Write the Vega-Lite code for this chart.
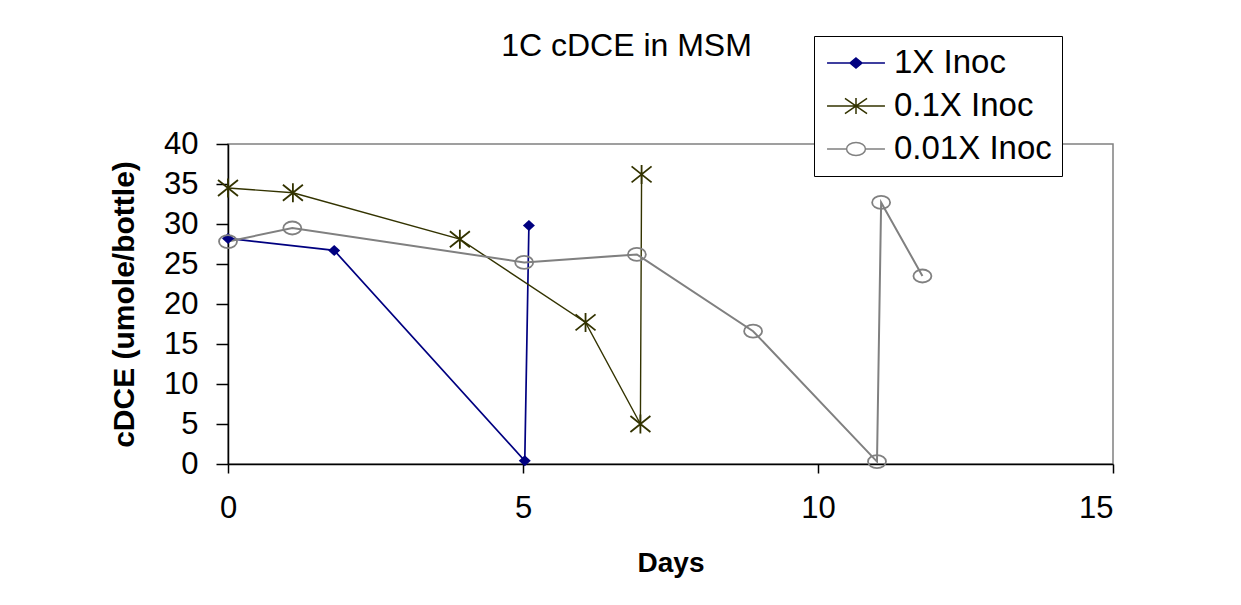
{
  "$schema": "https://vega.github.io/schema/vega-lite/v6.json",
  "autosize": {"type": "none"},
  "padding": {"left": 228, "top": 144, "right": 128, "bottom": 141},
  "width": 885,
  "height": 320,
  "background": "white",
  "config": {
    "font": "Liberation Sans",
    "view": {"stroke": "#808080", "strokeWidth": 1.5},
    "axis": {
      "grid": false,
      "domainColor": "black",
      "domainWidth": 1.5,
      "tickColor": "black",
      "tickWidth": 1.5,
      "labelColor": "black",
      "titleColor": "black",
      "labelFont": "Liberation Sans",
      "titleFont": "Liberation Sans",
      "labelFontSize": 31,
      "titleFontSize": 28,
      "titleFontWeight": "bold",
      "labelFlush": false
    }
  },
  "title": {
    "text": "1C cDCE in MSM",
    "font": "Liberation Sans",
    "fontSize": 32,
    "fontWeight": "normal",
    "color": "black",
    "anchor": "middle",
    "frame": "group",
    "dx": -44,
    "baseline": "alphabetic",
    "offset": -52
  },
  "data": {
    "values": [
      {"series": "1X Inoc", "ord": 1, "day": 0, "cdce": 28.2},
      {"series": "1X Inoc", "ord": 2, "day": 1.8, "cdce": 26.7},
      {"series": "1X Inoc", "ord": 3, "day": 5.03, "cdce": 0.4},
      {"series": "1X Inoc", "ord": 4, "day": 5.1, "cdce": 29.8},
      {"series": "0.1X Inoc", "ord": 1, "day": 0, "cdce": 34.5},
      {"series": "0.1X Inoc", "ord": 2, "day": 1.1, "cdce": 33.9},
      {"series": "0.1X Inoc", "ord": 3, "day": 3.93, "cdce": 28.1},
      {"series": "0.1X Inoc", "ord": 4, "day": 6.06, "cdce": 17.7},
      {"series": "0.1X Inoc", "ord": 5, "day": 6.99, "cdce": 5.0},
      {"series": "0.1X Inoc", "ord": 6, "day": 7.01, "cdce": 36.2},
      {"series": "0.01X Inoc", "ord": 1, "day": 0, "cdce": 27.8},
      {"series": "0.01X Inoc", "ord": 2, "day": 1.09, "cdce": 29.5},
      {"series": "0.01X Inoc", "ord": 3, "day": 5.02, "cdce": 25.2},
      {"series": "0.01X Inoc", "ord": 4, "day": 6.93, "cdce": 26.2},
      {"series": "0.01X Inoc", "ord": 5, "day": 8.9, "cdce": 16.6},
      {"series": "0.01X Inoc", "ord": 6, "day": 11.0, "cdce": 0.3},
      {"series": "0.01X Inoc", "ord": 7, "day": 11.07, "cdce": 32.7},
      {"series": "0.01X Inoc", "ord": 8, "day": 11.77, "cdce": 23.5}
    ]
  },
  "encoding": {
    "x": {
      "field": "day",
      "type": "quantitative",
      "scale": {"domain": [0, 15], "nice": false, "zero": false},
      "axis": {
        "values": [0, 5, 10, 15],
        "title": "Days",
        "tickSize": 9,
        "labelPadding": 20,
        "titlePadding": 26,
        "labelAlign": {"condition": {"test": "datum.value === 15", "value": "right"}, "value": "center"}
      }
    },
    "y": {
      "field": "cdce",
      "type": "quantitative",
      "scale": {"domain": [0, 40], "nice": false},
      "axis": {"values": [0, 5, 10, 15, 20, 25, 30, 35, 40], "title": "cDCE (umole/bottle)", "titleFontSize": 30, "tickSize": 12, "labelPadding": 18, "titlePadding": 24}
    }
  },
  "layer": [
    {
      "mark": {"type": "line"},
      "encoding": {
        "order": {"field": "ord", "type": "quantitative"},
        "color": {
          "field": "series",
          "type": "nominal",
          "scale": {"domain": ["1X Inoc", "0.1X Inoc", "0.01X Inoc"], "range": ["#000080", "#333300", "#808080"]}
        },
        "strokeWidth": {
          "field": "series",
          "type": "nominal",
          "scale": {"domain": ["0.01X Inoc", "1X Inoc", "0.1X Inoc"], "range": [2, 1.4, 2]},
          "legend": null
        }
      }
    },
    {
      "transform": [{"filter": "datum.series === '1X Inoc'"}],
      "mark": {"type": "point", "shape": "M0,-0.55L0.6,0L0,0.55L-0.6,0Z", "size": 400, "filled": true, "color": "#000080", "opacity": 1},
      "encoding": {}
    },
    {
      "transform": [{"filter": "datum.series === '0.1X Inoc'"}],
      "mark": {"type": "point", "shape": "M-1,-0.8L1,0.8M-1,0.8L1,-0.8M0,-0.95L0,0.95", "size": 400, "filled": false, "color": "#333300", "strokeWidth": 1.8, "opacity": 1},
      "encoding": {}
    },
    {
      "transform": [{"filter": "datum.series === '0.01X Inoc'"}],
      "mark": {"type": "point", "shape": "M-0.9,0A0.9,0.65,0,1,0,0.9,0A0.9,0.65,0,1,0,-0.9,0Z", "size": 400, "filled": false, "color": "#808080", "strokeWidth": 1.8, "opacity": 1},
      "encoding": {}
    },
    {
      "mark": {"type": "point", "size": 400, "filled": false, "opacity": 0},
      "encoding": {
        "color": {
          "field": "series",
          "type": "nominal",
          "legend": {
            "title": null,
            "orient": "none",
            "legendX": 586,
            "legendY": -108,
            "direction": "vertical",
            "strokeColor": "black",
            "fillColor": "white",
            "padding": 10,
            "labelFont": "Liberation Sans",
            "labelFontSize": 33,
            "labelColor": "black",
            "labelOffset": 21,
            "labelLimit": 400,
            "symbolSize": 1024,
            "symbolOffset": 15,
            "symbolStrokeWidth": 1.5,
            "symbolOpacity": 1,
            "rowPadding": 9
          }
        },
        "fill": {
          "field": "series",
          "type": "nominal",
          "scale": {"domain": ["1X Inoc", "0.1X Inoc", "0.01X Inoc"], "range": ["#000080", "transparent", "transparent"]}
        },
        "shape": {
          "field": "series",
          "type": "nominal",
          "scale": {
            "domain": ["1X Inoc", "0.1X Inoc", "0.01X Inoc"],
            "range": [
              "M-1.81,0L1.81,0M0,-0.31L0.375,0L0,0.31L-0.375,0Z",
              "M-1.81,0L1.81,0M-0.69,-0.47L0.69,0.47M-0.69,0.47L0.69,-0.47M0,-0.5L0,0.5",
              "M-1.81,0L-0.59,0M0.59,0L1.81,0M-0.59,0A0.59,0.41,0,1,0,0.59,0A0.59,0.41,0,1,0,-0.59,0Z"
            ]
          }
        }
      }
    }
  ]
}
